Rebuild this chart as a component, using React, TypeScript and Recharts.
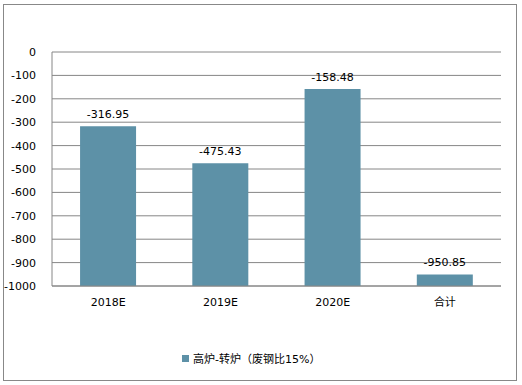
import { Bar, BarChart, CartesianGrid, LabelList, XAxis, YAxis } from "recharts";

const categories = ["2018E", "2019E", "2020E", "合计"];
const values = [-316.95, -475.43, -158.48, -950.85];
const yTicks = [0, -100, -200, -300, -400, -500, -600, -700, -800, -900, -1000];
const seriesName = "高炉-转炉（废钢比15%）";
const axisFloor = -1000;

const barColor = "#5d91a7";
const gridColor = "#868686";
const font = "'DejaVu Sans', 'Noto Sans CJK SC', sans-serif";

const data = categories.map((name, i) => ({ name, value: values[i], range: [axisFloor, values[i]] }));

function ValueLabel(props: any) {
  const { x, y, width, index } = props;
  return (
    <text x={x + width / 2} y={y - 8} textAnchor="middle" fontSize={11} fontFamily={font} fill="#000">
      {values[index].toFixed(2)}
    </text>
  );
}

export default function App() {
  return (
    <div style={{ position: "absolute", left: 0, top: 0, width: 522, height: 385, background: "#fff", fontFamily: font }}>
      <div style={{ position: "absolute", left: 3, top: 4, width: 512, height: 375, border: "1px solid #888" }} />
      <div style={{ position: "absolute", left: 0, top: 0 }}>
        <BarChart width={522} height={385} data={data} margin={{ top: 52, right: 21, left: 0, bottom: 69 }} barCategoryGap="25%">
          <CartesianGrid horizontal vertical={false} stroke={gridColor} />
          <XAxis
            dataKey="name"
            axisLine={{ stroke: gridColor }}
            tickLine={false}
            tickMargin={6}
            height={30}
            tick={{ fontSize: 11, fill: "#000", fontFamily: font }}
          />
          <YAxis
            type="number"
            domain={[axisFloor, 0]}
            ticks={yTicks}
            interval={0}
            width={52}
            axisLine={{ stroke: gridColor }}
            tickLine={false}
            tickMargin={10}
            tick={{ fontSize: 11, fill: "#000", fontFamily: font }}
          />
          <Bar dataKey="range" fill={barColor} isAnimationActive={false}>
            <LabelList dataKey="value" content={<ValueLabel />} />
          </Bar>
        </BarChart>
      </div>
      <div style={{ position: "absolute", left: 182, top: 350, display: "flex", alignItems: "center", fontSize: 11, color: "#000", whiteSpace: "nowrap" }}>
        <span style={{ display: "inline-block", width: 7, height: 7, background: barColor, marginRight: 4 }} />
        <span>{seriesName}</span>
      </div>
    </div>
  );
}
